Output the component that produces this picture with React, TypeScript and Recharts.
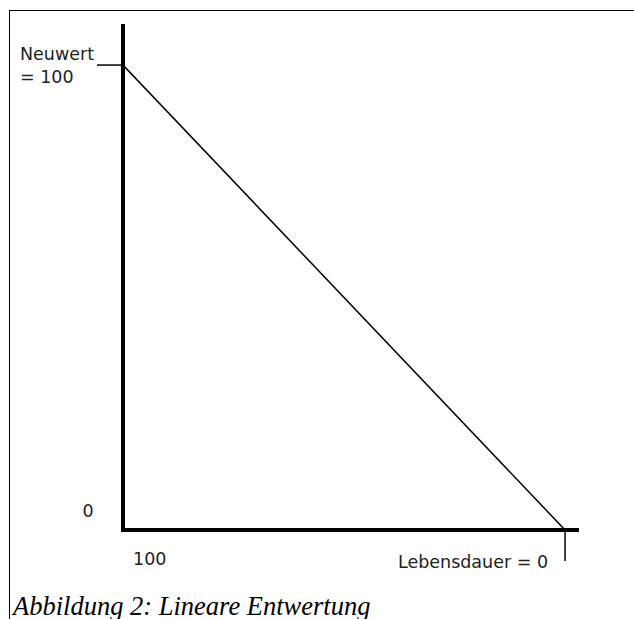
import { Line, LineChart, XAxis, YAxis } from "recharts";

// Lebensdauer (x) runs from 100 on the left down to 0 on the right
const lebensdauer = [100, 0];
const wert = [100, 0];
const xTickLabels: Record<number, string> = { 100: "100", 0: "Lebensdauer = 0" };
const yTickLabels: Record<number, string[]> = { 100: ["Neuwert", "= 100"], 0: ["0"] };
const caption = "Abbildung 2: Lineare Entwertung";

const data = lebensdauer.map((x, i) => ({ x, wert: wert[i] }));

const font = "'DejaVu Sans', Verdana, sans-serif";
const textColor = "#222";

function YTick({ x, y, payload }: any) {
  const v = Number(payload.value);
  const lines = yTickLabels[v] ?? [];
  if (v === 100) {
    return (
      <g>
        <line x1={x - 26} y1={y} x2={x} y2={y} stroke="#000" strokeWidth={1.5} />
        {lines.map((t, i) => (
          <text key={i} x={20} y={y - 5 + i * 23} fill={textColor} fontSize={17.5} fontFamily={font}>
            {t}
          </text>
        ))}
      </g>
    );
  }
  return (
    <text x={88} y={y - 19} fill={textColor} fontSize={17.5} fontFamily={font} textAnchor="middle" dominantBaseline="central">
      {lines[0]}
    </text>
  );
}

function XTick({ x, y, payload }: any) {
  const v = Number(payload.value);
  const label = xTickLabels[v] ?? "";
  if (v === 0) {
    return (
      <g>
        <line x1={x} y1={y} x2={x} y2={y + 31} stroke="#000" strokeWidth={1.5} />
        <text x={x - 17} y={y + 32} fill={textColor} fontSize={17.5} fontFamily={font} textAnchor="end" dominantBaseline="central">
          {label}
        </text>
      </g>
    );
  }
  return (
    <text x={x + 10} y={y + 29} fill={textColor} fontSize={17.5} fontFamily={font} dominantBaseline="central">
      {label}
    </text>
  );
}

export default function App() {
  return (
    <div style={{ position: "absolute", left: 0, top: 0, width: 634, height: 619, background: "#fff", overflow: "hidden" }}>
      <div
        style={{
          position: "absolute",
          left: 9,
          top: 10,
          width: 700,
          height: 700,
          borderTop: "1px solid #000",
          borderLeft: "1px solid #000"
        }}
      />
      <div style={{ position: "absolute", left: 0, top: 0 }}>
        <LineChart width={634} height={619} data={data} margin={{ top: 26, right: 57, bottom: 88, left: 122 }}>
          <XAxis
            type="number"
            dataKey="x"
            reversed
            domain={[-2.7, 100]}
            allowDataOverflow
            ticks={[100, 0]}
            height={1}
            tickSize={0}
            tickMargin={0}
            tickLine={false}
            axisLine={{ stroke: "#000", strokeWidth: 4, strokeLinecap: "square" }}
            tick={<XTick />}
          />
          <YAxis
            type="number"
            dataKey="wert"
            domain={[0, 108.4]}
            allowDataOverflow
            ticks={[100, 0]}
            width={1}
            tickSize={0}
            tickMargin={0}
            tickLine={false}
            axisLine={{ stroke: "#000", strokeWidth: 4, strokeLinecap: "square" }}
            tick={<YTick />}
          />
          <Line type="linear" dataKey="wert" stroke="#000" strokeWidth={1.5} dot={false} isAnimationActive={false} />
        </LineChart>
      </div>
      <div
        style={{
          position: "absolute",
          left: 13,
          top: 591,
          fontFamily: "'Liberation Serif', 'Times New Roman', serif",
          fontStyle: "italic",
          fontSize: 26.5,
          lineHeight: "30px",
          color: "#000",
          whiteSpace: "nowrap"
        }}
      >
        {caption}
      </div>
    </div>
  );
}
